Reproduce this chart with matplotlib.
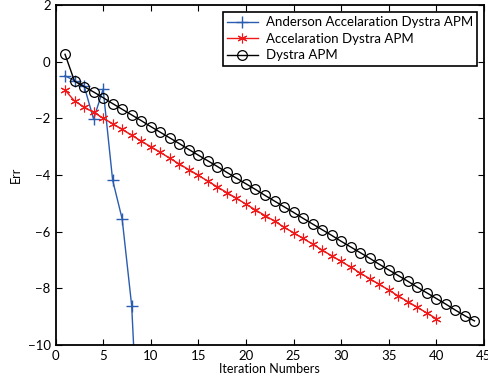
import matplotlib.pyplot as plt
import numpy as np

plt.rcParams['font.family'] = ['Lato', 'DejaVu Sans']

# Anderson Accelaration Dystra APM (last point falls below the axis)
it_aa = [1, 2, 3, 4, 5, 6, 7, 8, 9]
err_aa = [-0.50, -0.67, -0.85, -2.03, -0.97, -4.18, -5.55, -8.61, -15.5]

# Accelaration Dystra APM
it_acc = list(range(1, 41))
err_acc = [-1.00, -1.39, -1.60, -1.79, -1.99, -2.19, -2.39, -2.60, -2.80, -3.00,
           -3.20, -3.41, -3.61, -3.81, -4.01, -4.22, -4.42, -4.62, -4.82, -5.03,
           -5.23, -5.43, -5.63, -5.84, -6.04, -6.24, -6.44, -6.65, -6.85, -7.05,
           -7.25, -7.46, -7.66, -7.86, -8.06, -8.27, -8.47, -8.67, -8.87, -9.07]

# Dystra APM
it_dys = list(range(1, 45))
err_dys = [0.26, -0.69, -0.88, -1.07, -1.27, -1.48, -1.68, -1.88, -2.08, -2.29,
           -2.49, -2.69, -2.89, -3.10, -3.30, -3.50, -3.70, -3.91, -4.11, -4.31,
           -4.51, -4.72, -4.92, -5.12, -5.32, -5.53, -5.73, -5.93, -6.13, -6.34,
           -6.54, -6.74, -6.94, -7.15, -7.35, -7.55, -7.75, -7.96, -8.16, -8.36,
           -8.56, -8.77, -8.97, -9.15]

fig = plt.figure(figsize=(4.88, 3.83), dpi=100)
ax = fig.add_axes([55.5/488, 38/383, (484-55.5)/488, (345-5)/383])

ax.plot(it_aa, err_aa, color='#2a5cb0', marker='+', markersize=8, linewidth=1.0,
        label='Anderson Accelaration Dystra APM')
# MATLAB style asterisk marker
ax.plot(it_acc, err_acc, color='#f01818', marker=(6, 2, 0), markersize=7, linewidth=1.0,
        markeredgewidth=0.8, label='Accelaration Dystra APM')
ax.plot(it_dys, err_dys, color='black', marker='o', markersize=7, linewidth=1.0,
        markerfacecolor='none', markeredgewidth=0.9, label='Dystra APM')

ax.set_xlim(0, 45)
ax.set_ylim(-10, 2)
ax.set_xticks(np.arange(0, 46, 5))
ax.set_yticks(np.arange(-10, 3, 2))
ax.tick_params(direction='in', top=True, right=True, labelsize=9.5, length=4, width=0.8)
for s in ax.spines.values():
    s.set_linewidth(1.3)

ax.set_xlabel('Iteration Numbers', fontsize=9, labelpad=1)
ax.set_ylabel('Err', fontsize=9, labelpad=4)

leg = ax.legend(loc='upper right', fontsize=9.5, fancybox=False, edgecolor='black',
                framealpha=1, borderaxespad=0.5, handlelength=2.3, labelspacing=0.35,
                borderpad=0.35, handletextpad=0.6)
leg.get_frame().set_linewidth(1.2)

fig.savefig('out.png', dpi=100)
